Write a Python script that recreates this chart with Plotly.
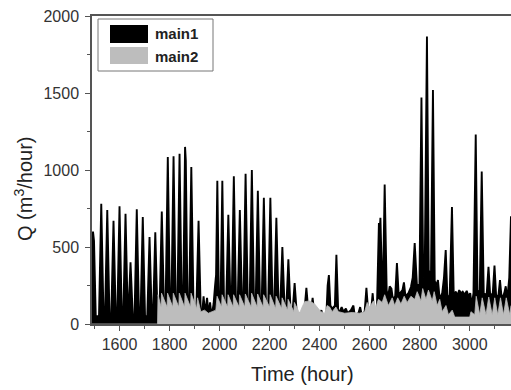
import plotly.graph_objects as go

# ---- data (hour, Q in m3/hour) ----
main1_hour = [
    1490, 1494, 1498, 1505,
    1518, 1527, 1536, 1542, 1551, 1560, 1567, 1576, 1585, 1591, 1600, 1609,
    1615, 1624, 1633, 1635, 1644, 1653, 1660, 1669, 1678, 1684, 1693, 1702,
    1711, 1720, 1729, 1734, 1743, 1752,
    1760, 1769, 1778, 1784, 1793, 1802, 1807, 1816, 1825, 1831, 1840, 1849,
    1854, 1862, 1865, 1872, 1878, 1887, 1896, 1907, 1916, 1925,
    1930, 1936, 1942, 1950, 1956, 1962, 1968, 1976, 1982, 1986, 1991, 1997,
    2004, 2011, 2018,
    2026, 2035, 2044, 2048, 2057, 2066, 2072, 2081, 2090, 2095, 2104, 2113,
    2120, 2129, 2138, 2144, 2153, 2162, 2168, 2177, 2186, 2194, 2203, 2212,
    2218, 2227, 2236, 2242, 2251, 2260, 2266, 2275, 2284, 2291, 2300, 2309,
    2339, 2347, 2355, 2365, 2372, 2379, 2400, 2407, 2412,
    2427, 2432, 2437, 2443, 2450, 2461, 2467, 2474,
    2480, 2488, 2495, 2505, 2512, 2525, 2535, 2540, 2555, 2562, 2568, 2580,
    2587, 2594, 2606, 2612, 2618,
    2629, 2637, 2640, 2643, 2651, 2653, 2660, 2668, 2673, 2680, 2687, 2693,
    2702, 2709, 2716, 2725, 2731, 2737, 2743, 2755, 2765, 2772, 2780, 2789,
    2799, 2807, 2814, 2820, 2829, 2836, 2845, 2853, 2860, 2866, 2873, 2880,
    2890, 2897, 2904, 2911, 2920, 2929, 2936,
    2945, 2950, 2958, 2965, 2972, 2980, 2988, 2995, 3002, 3008, 3015,
    3024, 3031, 3040, 3048, 3056, 3063, 3068, 3075, 3082, 3092, 3099, 3106,
    3115, 3121, 3128, 3138, 3144, 3150, 3158, 3165,
]
main1_q = [
    300, 600, 540, 50,
    50, 780, 50, 50, 740, 50, 50, 670, 50, 50, 765, 50,
    50, 715, 50, 50, 400, 50, 50, 745, 50, 50, 695, 50,
    50, 565, 50, 50, 595, 50,
    90, 730, 90, 90, 1085, 90, 90, 1090, 90, 90, 1105, 90,
    90, 1150, 1060, 90, 90, 1020, 90, 90, 670, 60,
    60, 180, 70, 170, 60, 140, 50, 130, 250, 320, 930, 200,
    160, 930, 100,
    100, 710, 100, 100, 960, 100, 100, 740, 100, 100, 975, 100,
    100, 1000, 100, 100, 865, 100, 100, 820, 100, 100, 820, 100,
    100, 690, 100, 100, 500, 100, 80, 420, 80, 60, 265, 60,
    80, 235, 80, 80, 170, 60, 60, 90, 50,
    60, 250, 318, 120, 100, 120, 450, 90,
    80, 110, 80, 100, 70, 90, 120, 60, 70, 110, 60, 80,
    235, 80, 90, 200, 70,
    100, 655, 600, 690, 170, 210, 905, 220, 170, 245, 230, 160,
    180, 395, 190, 210, 220, 270, 180, 200, 240, 300, 525, 250,
    260, 1470, 300, 330, 1867, 350, 300, 1520, 280, 250, 285, 160,
    200, 300, 480, 160, 190, 760, 190,
    210, 180, 220, 200, 210, 190, 215, 180, 200, 120, 200,
    1230, 220, 200, 990, 200, 190, 200, 372, 180, 200, 380, 170,
    190, 285, 160, 200, 245, 160, 300, 700,
]

main2_hour = [
    1490, 1752, 1754, 1766, 1768, 1790, 1792, 1813, 1815, 1837, 1839, 1860,
    1862, 1884, 1886, 1908, 1912, 1925, 1940, 1955, 1970, 1985, 1990, 2008,
    2010, 2032, 2034, 2054, 2056, 2078, 2080, 2101, 2103, 2126, 2128, 2150,
    2152, 2174, 2176, 2200, 2202, 2224, 2226, 2248, 2250, 2272, 2274, 2297,
    2299, 2320, 2330, 2340, 2360, 2380, 2395, 2405, 2420, 2430, 2440, 2450,
    2465, 2475, 2500, 2530, 2560, 2580, 2590, 2600, 2615, 2625, 2635, 2650,
    2660, 2675, 2690, 2700, 2712, 2725, 2738, 2750, 2765, 2780, 2790, 2805,
    2812, 2825, 2835, 2850, 2858, 2870, 2880, 2890, 2905, 2915, 2930, 2940,
    3000, 3005, 3020, 3026, 3040, 3050, 3065, 3076, 3090, 3100, 3112, 3123,
    3135, 3146, 3160, 3165,
]
main2_q = [
    0, 0, 190, 110, 200, 110, 200, 110, 200, 110, 200, 110,
    200, 110, 200, 100, 170, 80, 90, 70, 80, 90, 180, 110,
    190, 110, 190, 110, 190, 110, 190, 110, 195, 110, 200, 110,
    195, 110, 190, 110, 190, 100, 180, 100, 170, 90, 160, 80,
    140, 70, 110, 145, 150, 130, 100, 80, 70, 120, 110, 80,
    110, 80, 70, 75, 70, 80, 140, 110, 150, 110, 160, 140,
    190, 120, 170, 120, 170, 130, 180, 140, 180, 160, 210, 150,
    230, 160, 220, 150, 210, 120, 160, 80, 120, 60, 90, 45,
    45, 80, 60, 180, 60, 170, 60, 175, 60, 170, 60, 170,
    60, 170, 60, 120,
]

x_ticks = [1600, 1800, 2000, 2200, 2400, 2600, 2800, 3000]
y_ticks = [0, 500, 1000, 1500, 2000]
series_names = ["main1", "main2"]
series_colors = ["#000000", "#bdbdbd"]

# ---- layout geometry (pixels) ----
W, H = 511, 390
L, R, T, B = 92, 511, 16, 324


def px(xp):
    return (xp - L) / (R - L)


def py(yp):
    return (B - yp) / (B - T)


fig = go.Figure()
fig.add_trace(go.Scatter(
    x=main1_hour, y=main1_q, mode="lines", name=series_names[0],
    fill="tozeroy", fillcolor=series_colors[0],
    line=dict(color=series_colors[0], width=1.9), showlegend=False))
fig.add_trace(go.Scatter(
    x=main2_hour, y=main2_q, mode="lines", name=series_names[1],
    fill="tozeroy", fillcolor=series_colors[1],
    line=dict(color=series_colors[1], width=0.8), showlegend=False))

font_main = "Liberation Sans, Arial, sans-serif"
axis_common = dict(
    showline=True, linecolor="#555555", linewidth=1.5, mirror=True,
    ticks="outside", ticklen=5, tickwidth=1.2, tickcolor="#555555",
    showgrid=False, zeroline=False, automargin=False,
    tickfont=dict(family=font_main, size=16, color="#333333"),
)

fig.update_layout(
    width=W, height=H,
    margin=dict(l=L, r=W - R, t=T, b=H - B, autoexpand=False),
    paper_bgcolor="white", plot_bgcolor="white",
    xaxis=dict(range=[1490, 3165], tickvals=x_ticks,
               minor=dict(dtick=100, tick0=1500, ticks="outside", ticklen=3,
                          tickcolor="#555555"),
               ticklabelstandoff=0, **axis_common),
    yaxis=dict(range=[0, 2000], tickvals=y_ticks,
               minor=dict(dtick=250, tick0=0, ticks="outside", ticklen=3,
                          tickcolor="#555555"),
               ticklabelstandoff=3, **axis_common),
)

# axis titles
fig.add_annotation(text="Time (hour)", xref="paper", yref="paper",
                   x=px(302), y=py(374), xanchor="center", yanchor="middle",
                   showarrow=False,
                   font=dict(family=font_main, size=20, color="#222222"))
fig.add_annotation(text="Q (m<sup>3</sup>/hour)", xref="paper", yref="paper",
                   x=px(23), y=py(189), xanchor="center", yanchor="middle",
                   showarrow=False, textangle=-90,
                   font=dict(family=font_main, size=20, color="#222222"))

# legend box drawn by hand
fig.add_shape(type="rect", xref="paper", yref="paper",
              x0=px(98), x1=px(213), y0=py(71), y1=py(19),
              line=dict(color="#777777", width=1), fillcolor="white")
swatch_rows = [(25, 43, 34), (47, 64, 56)]
for name, color, (ya, yb, yc) in zip(series_names, series_colors, swatch_rows):
    fig.add_shape(type="rect", xref="paper", yref="paper",
                  x0=px(110), x1=px(148), y0=py(yb), y1=py(ya),
                  line=dict(width=0), fillcolor=color)
    fig.add_annotation(text="<b>%s</b>" % name, xref="paper", yref="paper",
                       x=px(153), y=py(yc), xanchor="left", yanchor="middle",
                       showarrow=False,
                       font=dict(family=font_main, size=15, color="#222222"))

fig.write_html(
    "out.html",
    config={"displayModeBar": False},
    post_script="document.body.style.margin='0';"
                "document.body.style.overflow='hidden';",
)
